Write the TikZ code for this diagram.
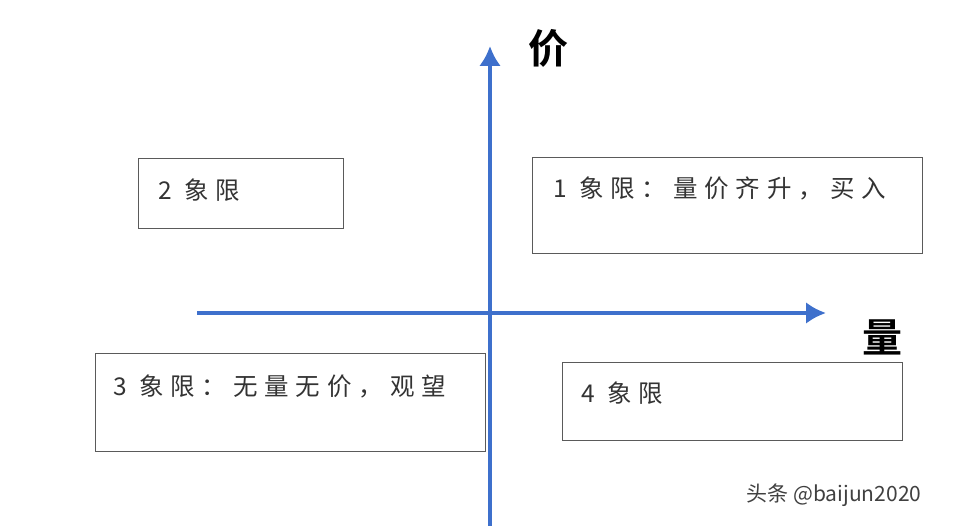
\documentclass[tikz,border=0pt]{standalone}
\usepackage{fontspec}
\newfontfamily\cjk{Noto Sans CJK SC}
\newfontfamily\cjksp[LetterSpace=28]{Noto Sans CJK SC}
\newfontfamily\cjkb{Noto Sans CJK SC Bold}
\usetikzlibrary{arrows.meta}
\definecolor{axisblue}{RGB}{62,112,204}
\definecolor{boxgray}{RGB}{90,90,90}
\begin{document}
\begin{tikzpicture}[x=1pt,y=-1pt,
  qbox/.style={draw=boxgray,line width=0.9pt},
  qtext/.style={anchor=west,font=\cjksp\fontsize{24.5}{26}\selectfont,text=black!80,inner sep=0},
  axis/.style={draw=axisblue,line width=4pt,-{Latex[length=20pt,width=22pt]}}]
\useasboundingbox (0,0) rectangle (954,526);
\coordinate (vb) at (490,526);
\coordinate (vt) at (490,46);
\coordinate (hl) at (197,313);
\coordinate (hr) at (826,313);
\draw[axis] (vb) -- (vt);
\draw[axis] (hl) -- (hr);
\draw[qbox] (138,158) rectangle (343,228);
\draw[qbox] (532,157) rectangle (922,253);
\draw[qbox] (95,353) rectangle (485,451);
\draw[qbox] (562,362) rectangle (902,440);
\node[qtext] (t2) at (158,190) {2 象限};
\node[qtext] (t1) at (553,188) {1 象限：量价齐升，买入};
\node[qtext] (t3) at (113,386) {3 象限：无量无价，观望};
\node[qtext] (t4) at (581,393) {4 象限};
\node[font=\cjkb\fontsize{40}{44}\selectfont,inner sep=0] (jia) at (548,48) {价};
\node[font=\cjkb\fontsize{40}{44}\selectfont,inner sep=0] (liang) at (882,337) {量};
\node[font=\cjk\fontsize{21}{24}\selectfont,text=black!75,inner sep=0] (wm) at (834,495) {头条 @baijun2020};
\end{tikzpicture}
\end{document}
